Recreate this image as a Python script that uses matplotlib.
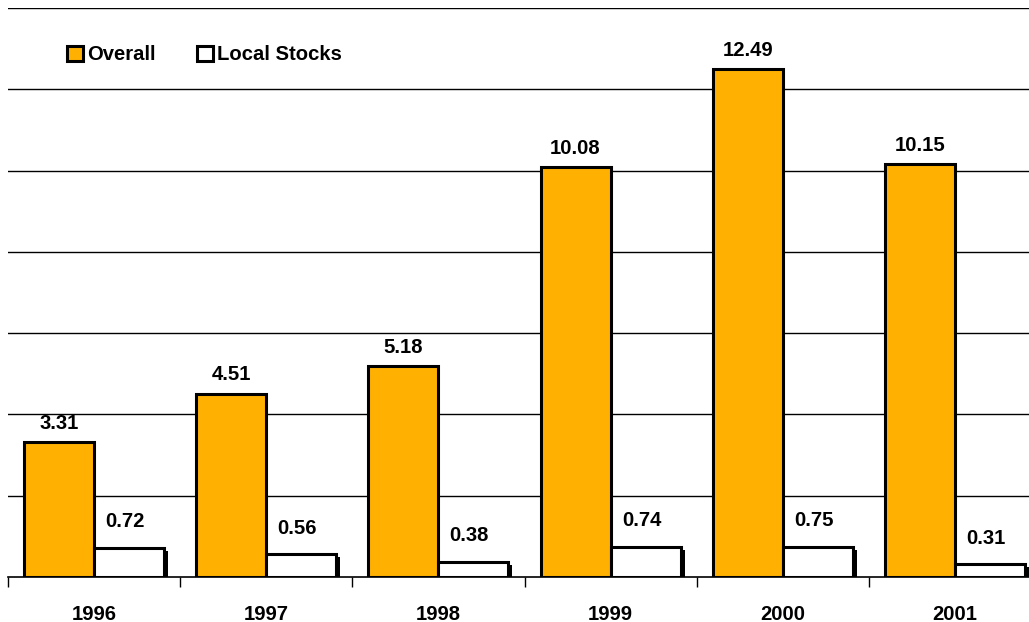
import matplotlib.pyplot as plt
import numpy as np
from matplotlib.patches import Patch

years = ["1996", "1997", "1998", "1999", "2000", "2001"]
overall = [3.31, 4.51, 5.18, 10.08, 12.49, 10.15]
local_stocks = [0.72, 0.56, 0.38, 0.74, 0.75, 0.31]

plt.rcParams['font.family'] = ['Liberation Sans', 'DejaVu Sans']
plt.rcParams['font.weight'] = 'bold'

fig = plt.figure(figsize=(10.29, 6.22), dpi=100)
# axes runs a bit past the right edge of the figure, as in the original
ax = fig.add_axes([8 / 1029, 45 / 622, 1033 / 1029, 569 / 622])

x = np.arange(len(years))
width = 0.407
orange = "#FFB000"
fs = 14.6

# small drop shadow for the white bars
dx = 4 / 172.2
dy = 3 / 40.7
ax.bar(x + width / 2 + dx, np.array(local_stocks) - dy, width, color="black",
       zorder=2)
ax.bar(x - width / 2, overall, width, color=orange, edgecolor="black",
       linewidth=2.2, zorder=3)
ax.bar(x + width / 2, local_stocks, width, color="white", edgecolor="black",
       linewidth=2.2, zorder=3)

for xi, v in zip(x, overall):
    ax.annotate(f"{v:.2f}", (xi - width / 2, v), xytext=(0, 7),
                textcoords="offset points", ha="center", va="bottom",
                fontsize=fs, fontweight="bold")
for xi, v in zip(x, local_stocks):
    ax.annotate(f"{v:.2f}", (xi + width / 2, v), xytext=(-3, 12),
                textcoords="offset points", ha="center", va="bottom",
                fontsize=fs, fontweight="bold")

ax.set_xlim(-0.5, len(years) - 0.5)
ax.set_ylim(0, 14)
ax.set_yticks(np.arange(2, 15, 2))
ax.yaxis.grid(True, color="black", linewidth=1.0, zorder=0)
ax.set_axisbelow(True)
ax.tick_params(axis="y", left=False, labelleft=False)

ax.set_xticks(np.arange(-0.5, len(years), 1.0))
ax.set_xticklabels([])
ax.tick_params(axis="x", which="major", length=7, width=1, color="black")
ax.set_xticks(x, minor=True)
ax.set_xticklabels(years, minor=True, fontsize=fs, fontweight="bold")
ax.tick_params(axis="x", which="minor", length=0, pad=20)

for s in ["left", "right", "top"]:
    ax.spines[s].set_visible(False)
ax.spines["bottom"].set_linewidth(1.2)
ax.spines["bottom"].set_zorder(4)

handles = [Patch(facecolor=orange, edgecolor="black", linewidth=2.2, label="Overall"),
           Patch(facecolor="white", edgecolor="black", linewidth=2.2, label="Local Stocks")]
fig.legend(handles=handles, loc="center left", bbox_to_anchor=(49 / 1029, 1 - 55 / 622),
           ncol=2, frameon=False, handlelength=0.8, handleheight=0.8,
           handletextpad=0.2, columnspacing=2.0,
           prop={"size": fs, "weight": "bold"})

fig.savefig("out.png", dpi=100)
